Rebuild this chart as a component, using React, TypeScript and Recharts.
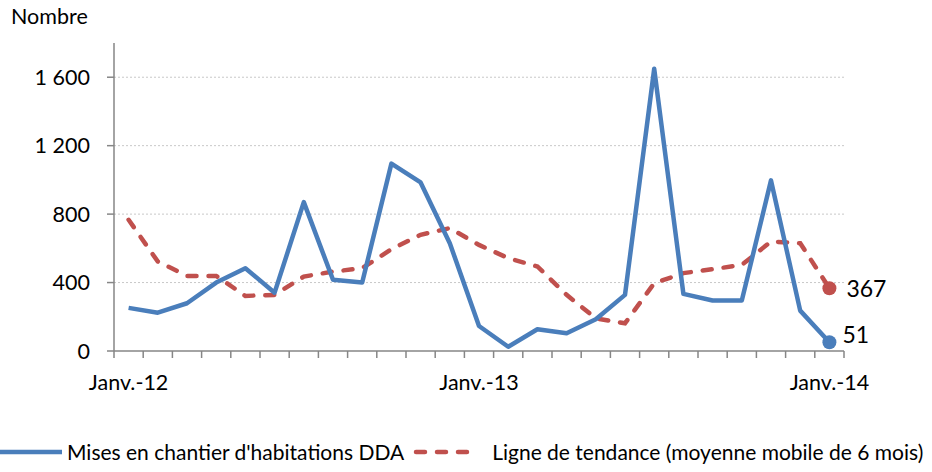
import React from "react";
import {
  LineChart,
  Line,
  CartesianGrid,
  XAxis,
  YAxis,
  Legend,
} from "recharts";

const mois = [
  "Janv.-12", "Févr.-12", "Mars-12", "Avr.-12", "Mai-12", "Juin-12", "Juil.-12",
  "Août-12", "Sept.-12", "Oct.-12", "Nov.-12", "Déc.-12",
  "Janv.-13", "Févr.-13", "Mars-13", "Avr.-13", "Mai-13", "Juin-13", "Juil.-13",
  "Août-13", "Sept.-13", "Oct.-13", "Nov.-13", "Déc.-13",
  "Janv.-14",
];
const misesEnChantier = [
  252, 224, 279, 400, 484, 341, 870, 416, 400, 1095, 985, 630,
  146, 25, 127, 104, 186, 328, 1649, 334, 295, 295, 997, 236, 51,
];
const tendance = [
  767, 523, 439, 439, 322, 328, 435, 464, 484, 595, 679, 718,
  620, 543, 494, 328, 191, 162, 396, 455, 478, 503, 640, 630, 367,
];
const yTicks = [0, 400, 800, 1200, 1600];
const moisAffiches = [0, 12, 24];

const BLUE = "#4a7ebb";
const RED = "#c0504d";
const AXIS = "#868686";
const FONT = "Lato, 'Open Sans', sans-serif";

const data = mois.map((m, i) => ({
  i,
  mois: m,
  mises: misesEnChantier[i],
  tendance: tendance[i],
}));

const last = data.length - 1;
// tick marks sit between months, labels on the months shown
const xTicks = [
  ...data.map((d) => d.i - 0.5),
  last + 0.5,
  ...moisAffiches,
].sort((a, b) => a - b);

const fmt = (v: number) =>
  v >= 1000 ? `${Math.floor(v / 1000)} ${String(v % 1000).padStart(3, "0")}` : String(v);

const XTick = (props: any) => {
  const { x, y, payload } = props;
  const v = payload.value;
  if (Number.isInteger(v)) {
    return (
      <text x={x} y={y + 39} textAnchor="middle" fontSize={21.5} fill="#000" fontFamily={FONT}>
        {mois[v]}
      </text>
    );
  }
  return <line x1={x} x2={x} y1={y} y2={y + 7} stroke={AXIS} strokeWidth={1.5} />;
};

const endDot = (color: string) => (props: any) => {
  const { cx, cy, index } = props;
  if (index !== last) return <g key={`d${index}`} />;
  return <circle key={`d${index}`} cx={cx} cy={cy} r={7} fill={color} />;
};

const endLabel = (dx: number, dy: number) => (props: any) => {
  const { x, y, index, value } = props;
  if (index !== last) return <g key={`l${index}`} />;
  return (
    <text key={`l${index}`} x={x + dx} y={y + dy} fontSize={23} fill="#000" fontFamily={FONT}>
      {value}
    </text>
  );
};

const LegendContent = () => (
  <div
    style={{
      display: "flex",
      alignItems: "center",
      fontFamily: FONT,
      fontSize: 21,
      color: "#000",
      whiteSpace: "nowrap",
    }}
  >
    <svg width={64} height={10}>
      <line x1={0} x2={62} y1={5} y2={5} stroke={BLUE} strokeWidth={4.5} />
    </svg>
    <span style={{ marginLeft: 3 }}>Mises en chantier d'habitations DDA</span>
    <svg width={68} height={10} style={{ marginLeft: 8 }}>
      <line
        x1={4}
        x2={64}
        y1={5}
        y2={5}
        stroke={RED}
        strokeWidth={4.5}
        strokeDasharray="9 12"
        strokeLinecap="round"
      />
    </svg>
    <span style={{ marginLeft: 12 }}>Ligne de tendance (moyenne mobile de 6 mois)</span>
  </div>
);

export default function App() {
  return (
    <div style={{ width: 932, height: 472, background: "#fff" }}>
      <style>{"body{margin:0}"}</style>
      <LineChart
        width={932}
        height={472}
        data={data}
        margin={{ top: 43, right: 88, left: 0, bottom: 81 }}
      >
        <CartesianGrid
          vertical={false}
          stroke="#c8c8c8"
          strokeDasharray="2 2"
          horizontalValues={yTicks.filter((t) => t > 0)}
        />
        <XAxis
          dataKey="i"
          type="number"
          domain={[-0.5, last + 0.5]}
          ticks={xTicks}
          interval={0}
          tick={<XTick />}
          tickLine={false}
          tickSize={0}
          tickMargin={0}
          height={40}
          stroke={AXIS}
          strokeWidth={1.5}
        />
        <YAxis
          domain={[0, 1800]}
          ticks={yTicks}
          interval={0}
          width={114}
          tickSize={7}
          tickMargin={17}
          tickFormatter={fmt}
          tick={{ fontSize: 21.5, fill: "#000", fontFamily: FONT }}
          stroke={AXIS}
          strokeWidth={1.5}
          label={{
            content: () => (
              <text x={11} y={24} fontSize={21.5} fill="#000" fontFamily={FONT}>
                Nombre
              </text>
            ),
          }}
        />
        <Legend
          layout="horizontal"
          verticalAlign="middle"
          align="center"
          wrapperStyle={{ top: 439, left: 0, width: 932 }}
          content={<LegendContent />}
        />
        <Line
          dataKey="tendance"
          stroke={RED}
          strokeWidth={4.5}
          strokeDasharray="9 12"
          strokeLinecap="round"
          dot={endDot(RED)}
          activeDot={false}
          label={endLabel(17, 9)}
          isAnimationActive={false}
        />
        <Line
          dataKey="mises"
          stroke={BLUE}
          strokeWidth={4.5}
          strokeLinejoin="round"
          dot={endDot(BLUE)}
          activeDot={false}
          label={endLabel(13, 1)}
          isAnimationActive={false}
        />
      </LineChart>
    </div>
  );
}
